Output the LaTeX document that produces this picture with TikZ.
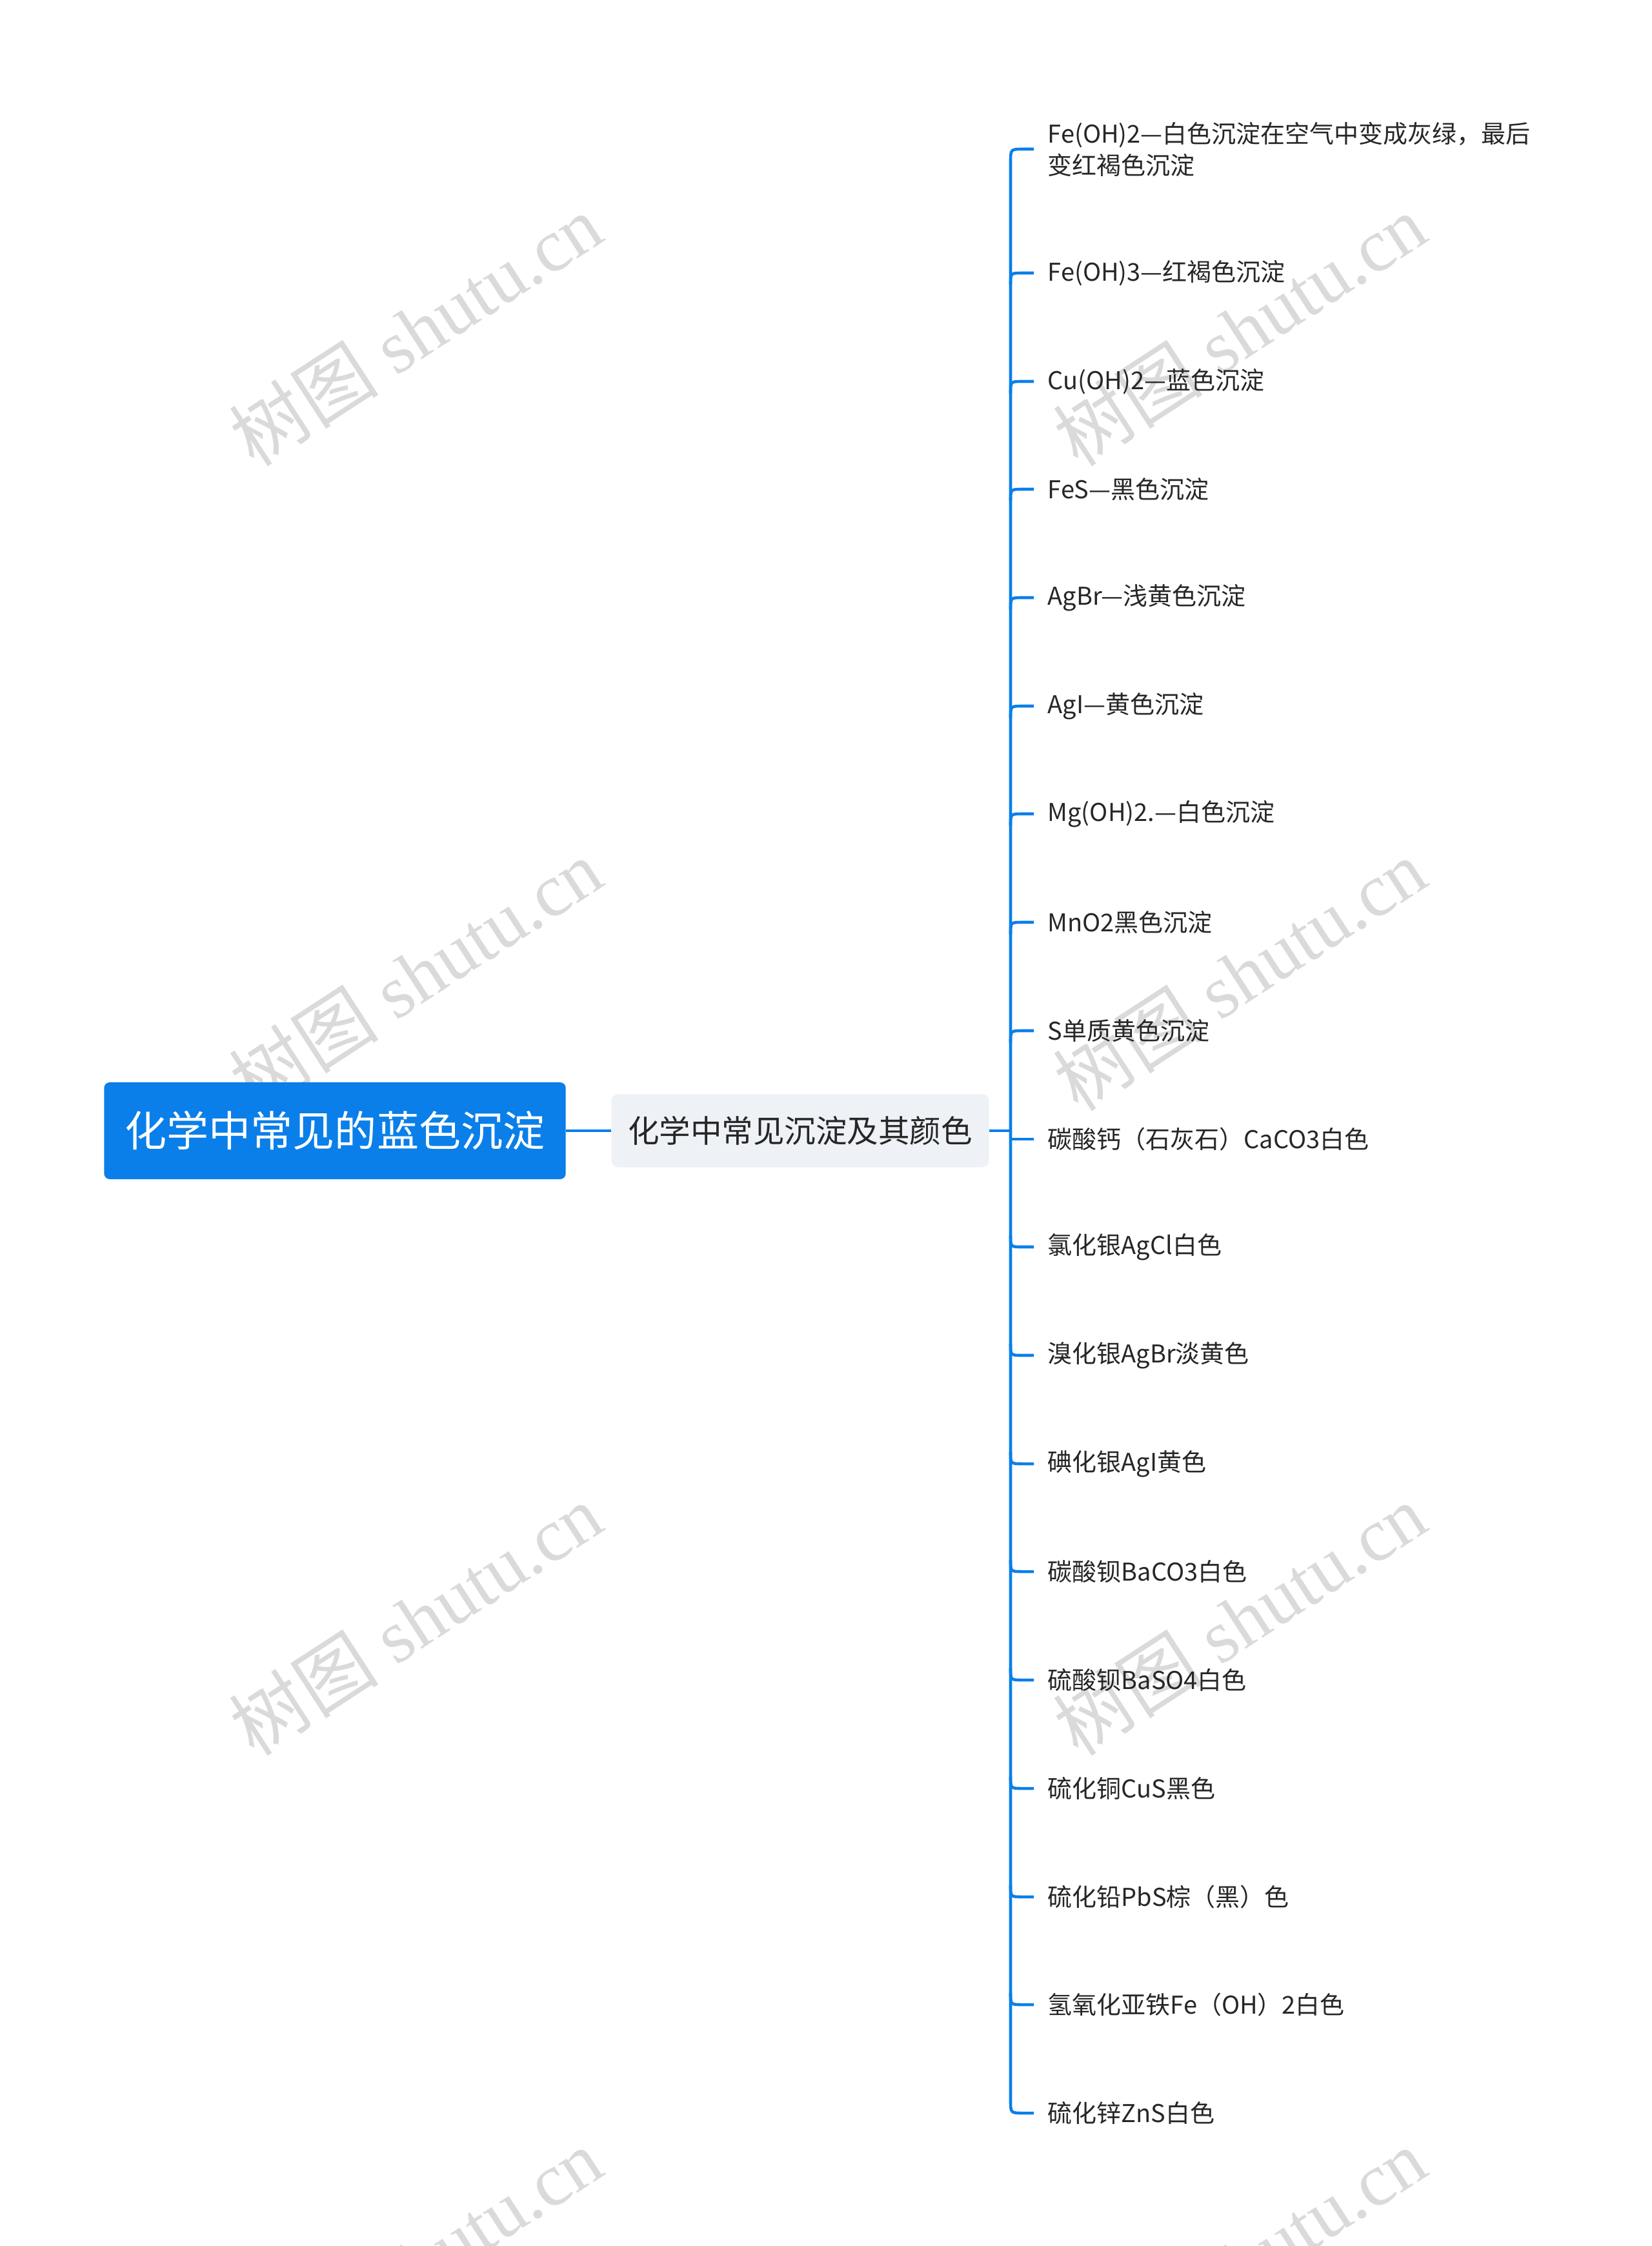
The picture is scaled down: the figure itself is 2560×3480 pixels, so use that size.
\documentclass[tikz,border=0pt]{standalone}
\usepackage{fontspec}
\setmainfont{Noto Sans CJK SC}
\newfontfamily\cjkfont{Noto Sans CJK SC}
\newfontfamily\wmserif{Liberation Serif}
\usepackage{tikz}
\usetikzlibrary{calc, positioning}
\definecolor{mapblue}{RGB}{10,127,233}
\definecolor{mapgray}{RGB}{238,241,245}
\definecolor{maptext}{RGB}{38,38,38}
\definecolor{wmgray}{RGB}{218,218,218}
\tikzset{
  link/.style={draw=mapblue, line width=1.3pt},
  leaf/.style={anchor=west, inner xsep=0.21cm, inner ysep=0pt, align=left,
    text=maptext, font=\fontsize{10.8}{13.9}\selectfont},
  wmark/.style={rotate=33, text=wmgray, font=\wmserif\fontsize{33}{38}\selectfont}
}

\begin{document}
\begin{tikzpicture}[x=0.01cm, y=-0.01cm]
\useasboundingbox (0,0) rectangle (2560,3480);
\begin{scope}
\clip (0,0) rectangle (2560,3480);
\node[wmark] (wm1) at (644,511)  {{\cjkfont 树图} shutu.cn};
\node[wmark] (wm2) at (1921,511) {{\cjkfont 树图} shutu.cn};
\node[wmark] (wm3) at (644,1510)  {{\cjkfont 树图} shutu.cn};
\node[wmark] (wm4) at (1921,1510) {{\cjkfont 树图} shutu.cn};
\node[wmark] (wm5) at (644,2509)  {{\cjkfont 树图} shutu.cn};
\node[wmark] (wm6) at (1921,2509) {{\cjkfont 树图} shutu.cn};
\node[wmark] (wm7) at (644,3508)  {{\cjkfont 树图} shutu.cn};
\node[wmark] (wm8) at (1921,3508) {{\cjkfont 树图} shutu.cn};
\end{scope}

\node[fill=mapblue, text=white, rounded corners=2.5pt, minimum width=7.15cm,
  minimum height=1.5cm, font=\fontsize{18.5}{22}\selectfont]
  (root) at (519,1752) {化学中常见的蓝色沉淀};
\node[fill=mapgray, text=maptext, rounded corners=3pt, minimum width=5.85cm,
  minimum height=1.13cm, font=\fontsize{13.8}{16}\selectfont]
  (sub) at (1240,1752) {化学中常见沉淀及其颜色};
\coordinate (spine) at (1566,1752);
\draw[link] (root) -- (sub);
\draw[link] (sub.east) -- (spine);

\node[leaf] (lf1)  at (1602,231)  {Fe(OH)2—白色沉淀在空气中变成灰绿，最后\\变红褐色沉淀};
\node[leaf] (lf2)  at (1602,423)  {Fe(OH)3—红褐色沉淀};
\node[leaf] (lf3)  at (1602,591)  {Cu(OH)2—蓝色沉淀};
\node[leaf] (lf4)  at (1602,758)  {FeS—黑色沉淀};
\node[leaf] (lf5)  at (1602,926)  {AgBr—浅黄色沉淀};
\node[leaf] (lf6)  at (1602,1094) {AgI—黄色沉淀};
\node[leaf] (lf7)  at (1602,1261) {Mg(OH)2.—白色沉淀};
\node[leaf] (lf8)  at (1602,1429) {MnO2黑色沉淀};
\node[leaf] (lf9)  at (1602,1597) {S单质黄色沉淀};
\node[leaf] (lf10) at (1602,1765) {碳酸钙（石灰石）CaCO3白色};
\node[leaf] (lf11) at (1602,1932) {氯化银AgCl白色};
\node[leaf] (lf12) at (1602,2100) {溴化银AgBr淡黄色};
\node[leaf] (lf13) at (1602,2268) {碘化银AgI黄色};
\node[leaf] (lf14) at (1602,2435) {碳酸钡BaCO3白色};
\node[leaf] (lf15) at (1602,2603) {硫酸钡BaSO4白色};
\node[leaf] (lf16) at (1602,2771) {硫化铜CuS黑色};
\node[leaf] (lf17) at (1602,2939) {硫化铅PbS棕（黑）色};
\node[leaf] (lf18) at (1602,3106) {氢氧化亚铁Fe（OH）2白色};
\node[leaf] (lf19) at (1602,3274) {硫化锌ZnS白色};

\draw[link] (lf1.west) -- ($(spine |- lf1.west)+(20,0)$)
  .. controls (spine |- lf1.west) .. ($(spine |- lf1.west)+(0,20)$)
  -- ($(spine |- lf19.west)+(0,-20)$)
  .. controls (spine |- lf19.west) .. ($(spine |- lf19.west)+(20,0)$) -- (lf19.west);
\foreach \i in {2,...,9}
  \draw[link] ($(spine |- lf\i.west)+(0,18)$) .. controls (spine |- lf\i.west)
    .. ($(spine |- lf\i.west)+(18,0)$) -- (lf\i.west);
\foreach \i in {11,...,18}
  \draw[link] ($(spine |- lf\i.west)+(0,-18)$) .. controls (spine |- lf\i.west)
    .. ($(spine |- lf\i.west)+(18,0)$) -- (lf\i.west);
\draw[link] (spine |- lf10.west) -- (lf10.west);
\end{tikzpicture}
\end{document}
